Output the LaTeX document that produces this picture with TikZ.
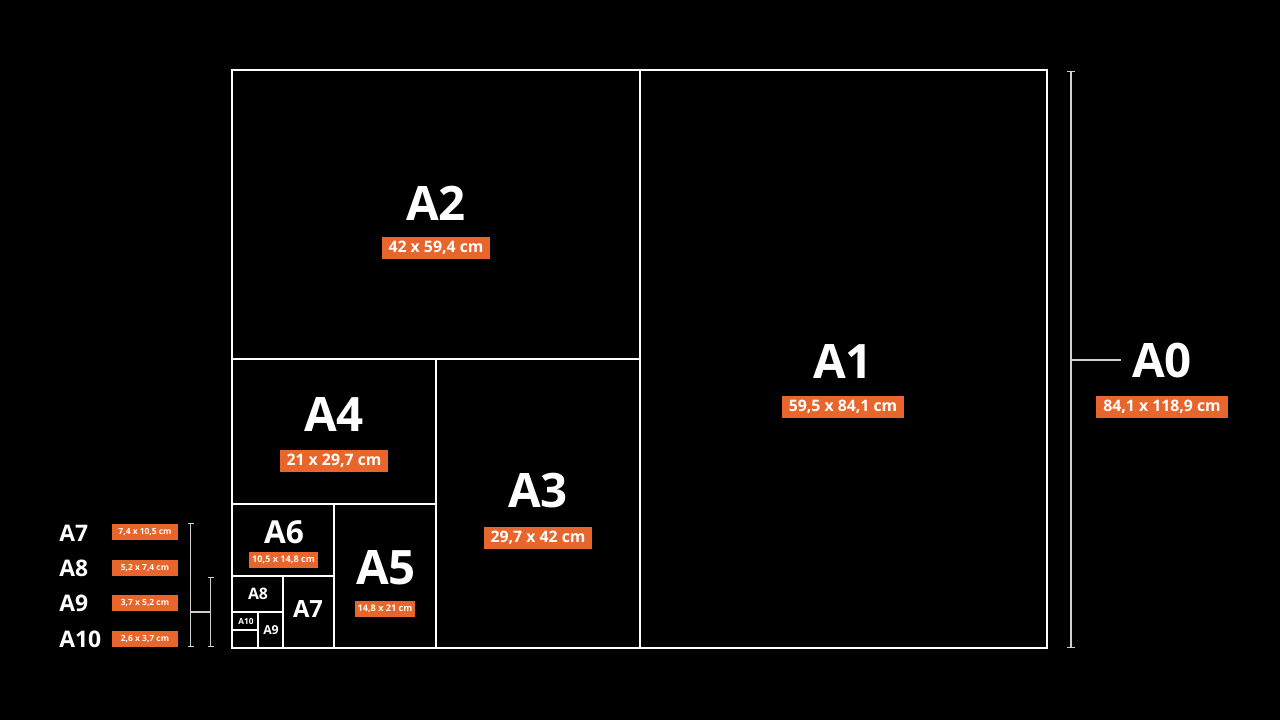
\documentclass[tikz,border=0pt]{standalone}
\usepackage{fontspec}
\setmainfont{Open Sans}
\usetikzlibrary{arrows.meta}
\definecolor{formatorange}{HTML}{E8652B}
\definecolor{guidegray}{HTML}{D0D0D0}
\tikzset{
  sheet/.style={draw=white, line width=1.6pt},
  fmtlabel/.style={text=white, inner sep=0pt, font=\bfseries\fontsize{#1}{#1}\selectfont},
  dimbox/.style={fill=formatorange, text=white, inner ysep=0pt, inner xsep=0.14cm,
    minimum height=0.44cm, font=\bfseries\fontsize{#1}{#1}\selectfont},
  smallbox/.style={fill=formatorange, text=white, inner sep=0pt,
    minimum height=0.32cm, minimum width=1.32cm, font=\bfseries\fontsize{#1}{#1}\selectfont},
  guide/.style={draw=guidegray, line width=0.75pt},
  bracket/.style={guide, {Bar[width=0.16cm]}-{Bar[width=0.16cm]}},
  smallbracket/.style={guide, {Bar[width=0.12cm]}-{Bar[width=0.12cm]}}
}
\begin{document}
\begin{tikzpicture}[x=0.02cm, y=-0.02cm]
  \fill[black] (0,0) rectangle (1280,720);
  \useasboundingbox (0,0) rectangle (1280,720);

  % sheets
  \draw[sheet] (232,70) rectangle (1047,648);
  \draw[sheet] (640,70) -- (640,648);
  \draw[sheet] (232,359) -- (640,359);
  \draw[sheet] (436,359) -- (436,648);
  \draw[sheet] (232,504) -- (436,504);
  \draw[sheet] (334,504) -- (334,648);
  \draw[sheet] (232,576) -- (334,576);
  \draw[sheet] (283,576) -- (283,648);
  \draw[sheet] (232,612) -- (283,612);
  \draw[sheet] (258,612) -- (258,648);
  \draw[sheet] (232,630) -- (258,630);

  % labels
  \node[fmtlabel=27] (lblA0) at (1162,361) {A0};
  \node[dimbox=9] (dimA0) at (1162,407) {84,1 x 118,9 cm};
  \node[fmtlabel=27] (lblA1) at (843,361) {A1};
  \node[dimbox=9] (dimA1) at (843,407) {59,5 x 84,1 cm};
  \node[fmtlabel=27] (lblA2) at (436,203) {A2};
  \node[dimbox=9] (dimA2) at (436,248) {42 x 59,4 cm};
  \node[fmtlabel=27] (lblA3) at (538,491) {A3};
  \node[dimbox=9] (dimA3) at (538,538) {29,7 x 42 cm};
  \node[fmtlabel=27] (lblA4) at (334,414) {A4};
  \node[dimbox=9] (dimA4) at (334,461) {21 x 29,7 cm};
  \node[fmtlabel=27] (lblA5) at (386,568) {A5};
  \node[dimbox=5.2, minimum height=0.32cm, inner xsep=0.06cm] (dimA5) at (385,609) {14,8 x 21 cm};
  \node[fmtlabel=18] (lblA6) at (284,532) {A6};
  \node[dimbox=5.2, minimum height=0.32cm, inner xsep=0.06cm] (dimA6) at (283.5,560) {10,5 x 14,8 cm};
  \node[fmtlabel=13.5] (lblA7) at (308,609) {A7};
  \node[fmtlabel=9] (lblA8) at (258,594) {A8};
  \node[fmtlabel=7] (lblA9) at (271,630) {A9};
  \node[fmtlabel=4.7] (lblA10) at (246,622) {A10};

  % A0 height
  \coordinate (a0top) at (1071,71);
  \coordinate (a0bot) at (1071,648);
  \coordinate (a0mid) at (1071,360);
  \coordinate (a0end) at (1121,360);
  \draw[bracket] (a0top) -- (a0bot);
  \draw[guide] (a0mid) -- (a0end);

  % small formats on the left
  \node[fmtlabel=13, anchor=west] (leftA7) at (59,533) {A7};
  \node[fmtlabel=13, anchor=west] (leftA8) at (59,568) {A8};
  \node[fmtlabel=13, anchor=west] (leftA9) at (59,603) {A9};
  \node[fmtlabel=13, anchor=west] (leftA10) at (59,639) {A10};
  \node[smallbox=4.8] (boxA7) at (145,532) {7,4 x 10,5 cm};
  \node[smallbox=4.8] (boxA8) at (145,568) {5,2 x 7,4 cm};
  \node[smallbox=4.8] (boxA9) at (145,603) {3,7 x 5,2 cm};
  \node[smallbox=4.8] (boxA10) at (145,639) {2,6 x 3,7 cm};
  \coordinate (ltop) at (190.5,523);
  \coordinate (lbot) at (190.5,647);
  \coordinate (lmid) at (190.5,612);
  \coordinate (rtop) at (210.5,577);
  \coordinate (rbot) at (210.5,647);
  \coordinate (rmid) at (210.5,612);
  \draw[smallbracket] (ltop) -- (lbot);
  \draw[smallbracket] (rtop) -- (rbot);
  \draw[guide] (lmid) -- (rmid);
\end{tikzpicture}
\end{document}
